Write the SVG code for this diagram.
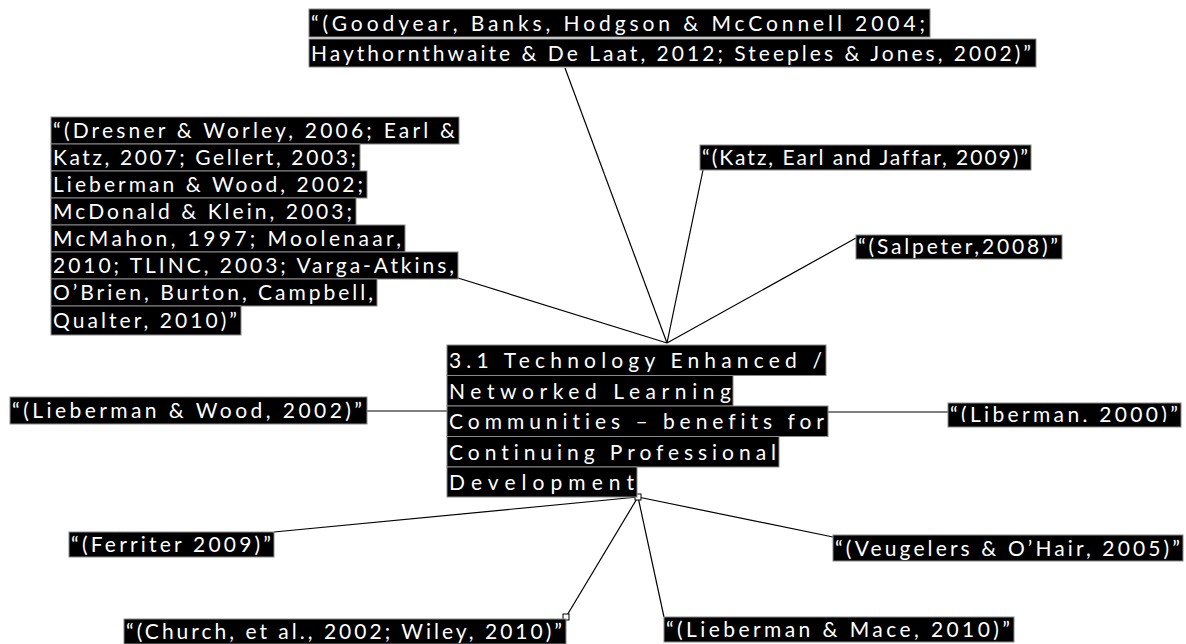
<svg xmlns="http://www.w3.org/2000/svg" width="1186" height="644" viewBox="0 0 1186 644">
<defs>
<style>
.bg{fill:#000;stroke:#8a8a8a;stroke-width:1}
.t{fill:#fff;font-family:Lato,"Open Sans","Liberation Sans",sans-serif;font-size:21px;font-variant-ligatures:none}
.c{stroke:#000;stroke-width:1.2;fill:none}
.h{fill:#fff;stroke:#000;stroke-width:1}
</style>
<clipPath id="clipLib"><rect x="948" y="403" width="233" height="19"/></clipPath>
</defs>
<rect width="1186" height="644" fill="#fff"/>
<g id="connectors">
<line class="c" x1="565" y1="68" x2="667" y2="343"/>
<line class="c" x1="703" y1="170" x2="667" y2="343"/>
<line class="c" x1="856" y1="238" x2="667" y2="343"/>
<line class="c" x1="458" y1="278" x2="667" y2="343"/>
<line class="c" x1="367" y1="411" x2="447" y2="411"/>
<line class="c" x1="826" y1="412" x2="948" y2="412"/>
<line class="c" x1="638" y1="497" x2="274" y2="532"/>
<line class="c" x1="638" y1="497" x2="566" y2="617"/>
<line class="c" x1="638" y1="497" x2="664" y2="617"/>
<line class="c" x1="638" y1="497" x2="833" y2="537"/>
<rect class="h" x="635" y="494" width="6" height="6"/>
<rect class="h" x="563" y="614" width="6" height="6"/>
</g>
<g id="node-top">
<rect class="bg" x="309" y="9" width="621" height="28"/>
<rect class="bg" x="309" y="39" width="727" height="28"/>
<text class="t" x="311" y="31" textLength="614" lengthAdjust="spacing">“(Goodyear, Banks, Hodgson &amp; McConnell 2004;</text>
<text class="t" x="311" y="61" textLength="720" lengthAdjust="spacing">Haythornthwaite &amp; De Laat, 2012; Steeples &amp; Jones, 2002)”</text>
</g>
<g id="node-left">
<rect class="bg" x="51" y="117" width="408" height="27"/>
<rect class="bg" x="51" y="144" width="309" height="27"/>
<rect class="bg" x="51" y="171" width="316" height="27"/>
<rect class="bg" x="51" y="198" width="305" height="27"/>
<rect class="bg" x="51" y="225" width="354" height="27"/>
<rect class="bg" x="51" y="252" width="407" height="27"/>
<rect class="bg" x="51" y="279" width="326" height="27"/>
<rect class="bg" x="51" y="306" width="190" height="29"/>
<text class="t" x="53" y="138" textLength="402" lengthAdjust="spacing">“(Dresner &amp; Worley, 2006; Earl &amp;</text>
<text class="t" x="53" y="165" textLength="303" lengthAdjust="spacing">Katz, 2007; Gellert, 2003;</text>
<text class="t" x="53" y="192" textLength="310" lengthAdjust="spacing">Lieberman &amp; Wood, 2002;</text>
<text class="t" x="53" y="219" textLength="299" lengthAdjust="spacing">McDonald &amp; Klein, 2003;</text>
<text class="t" x="53" y="246" textLength="348" lengthAdjust="spacing">McMahon, 1997; Moolenaar,</text>
<text class="t" x="53" y="273" textLength="401" lengthAdjust="spacing">2010; TLINC, 2003; Varga-Atkins,</text>
<text class="t" x="53" y="300" textLength="320" lengthAdjust="spacing">O’Brien, Burton, Campbell,</text>
<text class="t" x="53" y="328" textLength="184" lengthAdjust="spacing">Qualter, 2010)”</text>
</g>
<g id="node-center">
<rect class="bg" x="447" y="345" width="379" height="30.5"/>
<rect class="bg" x="447" y="375.5" width="286" height="30.5"/>
<rect class="bg" x="447" y="406" width="381" height="30.5"/>
<rect class="bg" x="447" y="436.5" width="332" height="30.5"/>
<rect class="bg" x="447" y="467" width="190" height="30"/>
<text class="t" x="449" y="368" textLength="373" lengthAdjust="spacing">3.1 Technology Enhanced /</text>
<text class="t" x="449" y="399" textLength="282" lengthAdjust="spacing">Networked Learning</text>
<text class="t" x="449" y="429" textLength="375" lengthAdjust="spacing">Communities – benefits for</text>
<text class="t" x="449" y="460" textLength="327" lengthAdjust="spacing">Continuing Professional</text>
<text class="t" x="449" y="490" textLength="185" lengthAdjust="spacing">Development</text>
</g>
<g id="node-katz">
<rect class="bg" x="700" y="145" width="331" height="25"/>
<text class="t" x="702" y="165" textLength="326" lengthAdjust="spacing">“(Katz, Earl and Jaffar, 2009)”</text>
</g>
<g id="node-salpeter">
<rect class="bg" x="856" y="235" width="206" height="24"/>
<text class="t" x="858" y="254" textLength="200" lengthAdjust="spacing">“(Salpeter,2008)”</text>
</g>
<g id="node-lieberman-wood">
<rect class="bg" x="10" y="397" width="357" height="27"/>
<text class="t" x="12" y="418" textLength="350" lengthAdjust="spacing">“(Lieberman &amp; Wood, 2002)”</text>
</g>
<g id="node-liberman">
<rect class="bg" x="948" y="403" width="233" height="24"/>
<text class="t" x="950" y="422" textLength="228" lengthAdjust="spacing" clip-path="url(#clipLib)">“(Liberman, 2000)”</text>
</g>
<g id="node-ferriter">
<rect class="bg" x="69" y="532" width="205" height="25"/>
<text class="t" x="71" y="552" textLength="200" lengthAdjust="spacing">“(Ferriter 2009)”</text>
</g>
<g id="node-veugelers">
<rect class="bg" x="833" y="535" width="350" height="26"/>
<text class="t" x="835" y="556" textLength="345" lengthAdjust="spacing">“(Veugelers &amp; O’Hair, 2005)”</text>
</g>
<g id="node-church">
<rect class="bg" x="124" y="619" width="442" height="25"/>
<text class="t" x="126" y="639" textLength="436" lengthAdjust="spacing">“(Church, et al., 2002; Wiley, 2010)”</text>
</g>
<g id="node-lieberman-mace">
<rect class="bg" x="664" y="617" width="350" height="25"/>
<text class="t" x="666" y="637" textLength="344" lengthAdjust="spacing">“(Lieberman &amp; Mace, 2010)”</text>
</g>
</svg>
